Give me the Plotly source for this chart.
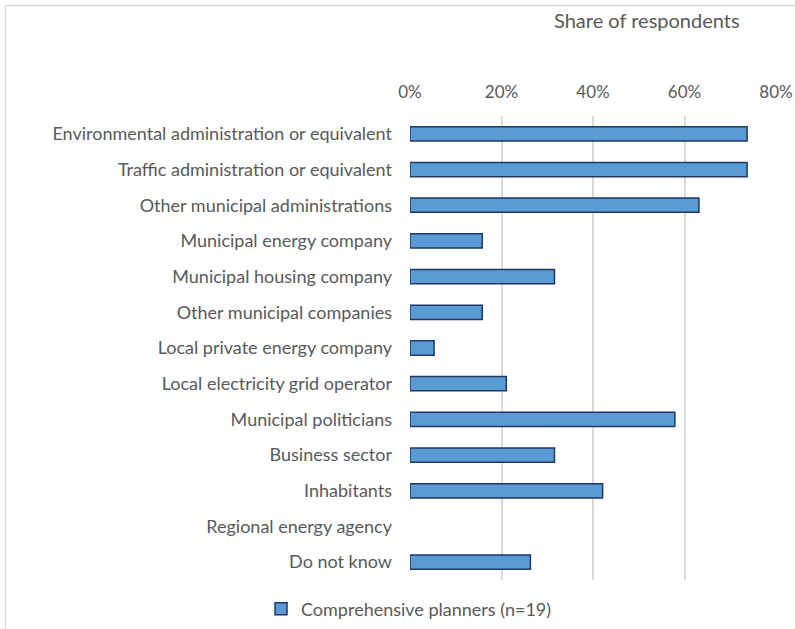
import plotly.graph_objects as go

categories = [
    "Environmental administration or equivalent",
    "Traffic administration or equivalent",
    "Other municipal administrations",
    "Municipal energy company",
    "Municipal housing company",
    "Other municipal companies",
    "Local private energy company",
    "Local electricity grid operator",
    "Municipal politicians",
    "Business sector",
    "Inhabitants",
    "Regional energy agency",
    "Do not know",
]
# respondent counts out of n=19
counts = [14, 14, 12, 3, 6, 3, 1, 4, 11, 6, 8, 0, 5]
n_respondents = 19
shares = [c / n_respondents for c in counts]
tick_values = [0, 0.2, 0.4, 0.6, 0.8]
tick_labels = ["0%", "20%", "40%", "60%", "80%"]

FONT = "Lato"
TXT = "#595959"

fig = go.Figure()
fig.add_trace(go.Bar(
    y=categories,
    x=shares,
    orientation="h",
    name="Comprehensive planners (n=19)",
    marker=dict(
        color="#5B9BD5",
        # no outline on empty bars
        line=dict(color="#1F3864", width=[1.5 if c > 0 else 0 for c in counts]),
    ),
))

L, R, T, B = 410, 19, 116, 49
W, H = 795, 629
pw = W - L - R
ph = H - T - B

def px_x(p):
    return (p - L) / pw

def px_y(p):
    return (H - B - p) / ph

fig.update_layout(
    width=W, height=H,
    margin=dict(l=L, r=R, t=T, b=B, autoexpand=False),
    paper_bgcolor="white", plot_bgcolor="white",
    font=dict(family=FONT, size=18, color=TXT),
    bargap=0.6,
    showlegend=True,
    legend=dict(
        orientation="h", xref="container", yref="container",
        x=261 / W, y=1 - 609 / H, xanchor="left", yanchor="middle",
        font=dict(family=FONT, size=18, color=TXT),
        itemwidth=30,
    ),
    xaxis=dict(
        range=[0, 0.8], side="top", tickvals=tick_values, ticktext=tick_labels,
        showgrid=True, gridcolor="#D9D9D9", gridwidth=1.5,
        zeroline=False, showline=False, ticks="", ticklabelstandoff=14,
        tickfont=dict(family=FONT, size=17, color=TXT),
        automargin=False,
    ),
    yaxis=dict(
        autorange="reversed", showgrid=False, zeroline=False, showline=False,
        ticks="", ticklabelstandoff=17, automargin=False,
        tickfont=dict(family=FONT, size=18, color=TXT),
    ),
    annotations=[dict(
        text="Share of respondents", xref="paper", yref="paper",
        x=px_x(647), y=px_y(20), xanchor="center", yanchor="middle",
        showarrow=False, font=dict(family=FONT, size=20, color=TXT),
    )],
    shapes=[
        dict(type="line", xref="paper", yref="paper",
             x0=px_x(5.5), x1=px_x(800), y0=px_y(5.5), y1=px_y(5.5),
             line=dict(color="#D9D9D9", width=1.5)),
        dict(type="line", xref="paper", yref="paper",
             x0=px_x(5.5), x1=px_x(5.5), y0=px_y(5.5), y1=px_y(640),
             line=dict(color="#D9D9D9", width=1.5)),
    ],
)

fig.write_html("out.html")
